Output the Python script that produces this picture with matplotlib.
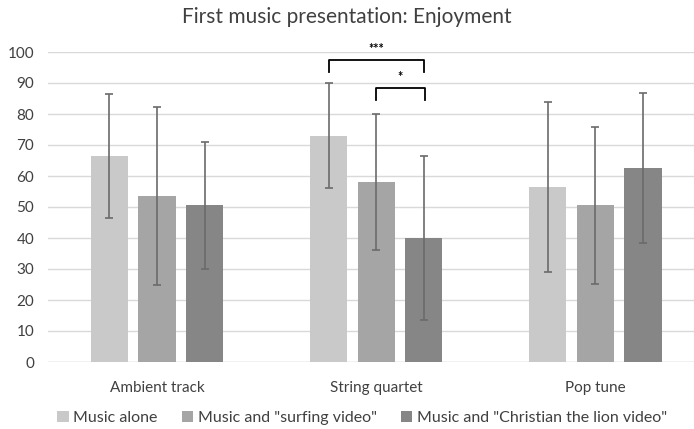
import numpy as np
import matplotlib.pyplot as plt

plt.rcParams['font.family'] = ['Lato', 'DejaVu Sans']

categories = ['Ambient track', 'String quartet', 'Pop tune']
series = ['Music alone', 'Music and "surfing video"', 'Music and "Christian the lion video"']
means = [
    [66.5, 73.0, 56.5],
    [53.5, 58.0, 50.5],
    [50.5, 40.0, 62.5],
]
errs = [
    [20.0, 17.0, 27.5],
    [28.7, 22.0, 25.3],
    [20.5, 26.5, 24.2],
]
colors = ['#c9c9c9', '#a5a5a5', '#868686']
yticks = list(range(0, 101, 10))

fig = plt.figure(figsize=(6.94, 4.29), dpi=100)
ax = fig.add_axes([48 / 694, 1 - 362 / 429, 1 - 48 / 694, (362 - 52) / 429])

x = np.arange(len(categories))
width = 0.17
offsets = [-0.217, 0, 0.217]
for i in range(3):
    ax.bar(x + offsets[i], means[i], width, color=colors[i], label=series[i], zorder=2)
    ax.errorbar(x + offsets[i], means[i], yerr=errs[i], fmt='none', ecolor='#6b6b6b',
                elinewidth=1.2, capsize=3, capthick=1.2, zorder=3)

# significance brackets over the string quartet
def bracket(x0, x1, y_top, y_leg, label):
    ax.plot([x0, x0, x1, x1], [y_leg, y_top, y_top, y_leg], color='black', lw=1.3,
            zorder=4, clip_on=False)
    ax.text((x0 + x1) / 2, y_top + 1.5, label, ha='center', va='bottom', fontsize=9,
            fontweight='bold')

bracket(1 + offsets[0], 1 + offsets[2], 97.4, 93.5, '***')
bracket(1 + offsets[1], 1 + offsets[2] + 0.005, 88.4, 84.5, '*')

ax.set_ylim(0, 100)
ax.set_xlim(-0.497, 2.45)
ax.set_yticks(yticks)
ax.set_xticks(x)
ax.set_xticklabels(categories)
ax.yaxis.grid(True, color='#d9d9d9', lw=1, zorder=0)
ax.set_axisbelow(True)
for s in ax.spines.values():
    s.set_visible(False)
ax.tick_params(length=0, labelsize=11, colors='#404040')
ax.tick_params(axis='x', pad=14)
ax.tick_params(axis='y', pad=10)
ax.axhline(0, color='#d9d9d9', lw=1, zorder=1)

fig.text(0.5, 1 - 17 / 429, 'First music presentation: Enjoyment', ha='center', va='center',
         fontsize=15, color='#404040')
fig.legend(loc='center', bbox_to_anchor=(362 / 694, 1 - 418 / 429), ncol=3, frameon=False,
           fontsize=11.5, handlelength=0.7, handleheight=0.7, columnspacing=1.5,
           handletextpad=0.3, labelcolor='#404040')

plt.savefig('out.png')
